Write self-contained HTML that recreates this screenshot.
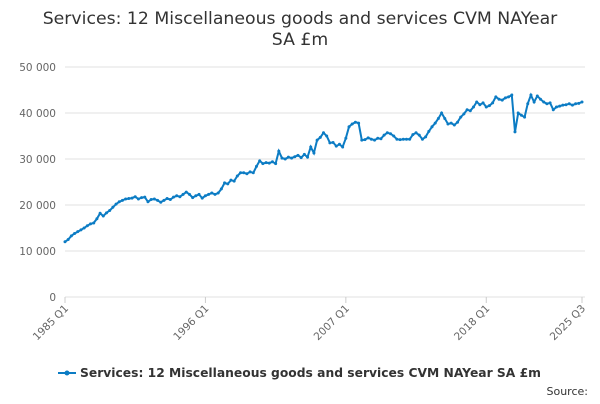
<!DOCTYPE html>
<html><head><meta charset="utf-8"><style>
body{margin:0;background:#fff;font-family:"DejaVu Sans",sans-serif;}
svg text{font-family:"DejaVu Sans","Liberation Sans",sans-serif;}
</style></head><body>
<svg width="600" height="400" id="c">
<text x="300" y="24" text-anchor="middle" font-size="17.3" fill="#333">Services: 12 Miscellaneous goods and services CVM NAYear</text>
<text x="300" y="45" text-anchor="middle" font-size="17.3" fill="#333">SA £m</text>
<g id="grid"></g><g id="ax"></g><g id="series"></g>
<g>
<line x1="58" y1="373" x2="76" y2="373" stroke="#0c7cc4" stroke-width="2"/><circle cx="67" cy="373" r="2.5" fill="#0c7cc4"/>
<text x="80" y="377" font-size="12.3" font-weight="bold" fill="#333">Services: 12 Miscellaneous goods and services CVM NAYear SA £m</text></g>
<text x="588" y="395" text-anchor="end" font-size="11" fill="#333">Source:</text>
</svg>
<script>
const yTicks=[0,10000,20000,30000,40000,50000];
const yTickLabels=["0","10 000","20 000","30 000","40 000","50 000"];
const xTickIdx=[0,44,88,132,162];
const xTickLabels=["1985 Q1","1996 Q1","2007 Q1","2018 Q1","2025 Q3"];
const values=[
12000,12500,13300,13800, 14200,14600,15000,15500, 15900,16100,17000,18200, 17600,18300,18800,19500,
20200,20700,21000,21300, 21400,21500,21800,21300, 21600,21700,20700,21200, 21300,21000,20600,21000,
21400,21200,21700,22000, 21800,22300,22800,22300, 21600,22000,22300,21500, 22000,22300,22600,22300,
22600,23500,24800,24600, 25400,25200,26300,27000, 27000,26800,27200,27000, 28400,29600,29000,29200,
29100,29400,29000,31700, 30200,30000,30400,30200, 30500,30800,30300,31000, 30400,32600,31300,34100,
34700,35700,35000,33500, 33600,32800,33200,32600, 34500,37000,37600,38000, 37800,34100,34200,34600,
34300,34100,34500,34400, 35200,35700,35500,35000, 34300,34200,34300,34300, 34300,35300,35700,35200,
34300,34800,36000,37000, 37800,38800,40000,38800, 37600,37800,37400,38000, 39100,39800,40700,40500,
41300,42400,41800,42200, 41300,41600,42200,43500, 43000,42800,43300,43500, 43900,35900,40000,39500,
39100,42000,43900,42400, 43700,43000,42400,42000, 42200,40700,41300,41500, 41700,41800,42000,41700,
42000,42100,42400];
const X0=65,X1=582,Y0=297,Y1=67;
const N=values.length-1;
const xs=i=>X0+(X1-X0)*i/N, ys=v=>Y0-(Y0-Y1)*v/50000;
const NS="http://www.w3.org/2000/svg";
const g=document.getElementById('grid'),ax=document.getElementById('ax'),s=document.getElementById('series');
yTicks.forEach((t,k)=>{
 const l=document.createElementNS(NS,'line');
 
 
 l.setAttribute('x1',X0);l.setAttribute('x2',X1+3);l.setAttribute('y1',ys(t));l.setAttribute('y2',ys(t));
 l.setAttribute('stroke','#e0e0e0');g.appendChild(l);
 const tx=document.createElementNS(NS,'text');
 
 
 tx.setAttribute('x',X0-9);tx.setAttribute('y',ys(t)+4);tx.setAttribute('text-anchor','end');
 tx.setAttribute('font-size','10.5');tx.setAttribute('fill','#666');tx.textContent=yTickLabels[k];ax.appendChild(tx);
});
xTickIdx.forEach((i,k)=>{
 const l=document.createElementNS(NS,'line');
 
 
 l.setAttribute('x1',xs(i));l.setAttribute('x2',xs(i));l.setAttribute('y1',Y0);l.setAttribute('y2',Y0+6);
 l.setAttribute('stroke','#ccc');ax.appendChild(l);
 const tx=document.createElementNS(NS,'text');
 
 
 const x=xs(i)+4,y=Y0+12;
 tx.setAttribute('x',x);tx.setAttribute('y',y);tx.setAttribute('text-anchor','end');
 tx.setAttribute('transform','rotate(-45 '+x+' '+y+')');
 tx.setAttribute('font-size','10.5');tx.setAttribute('fill','#666');tx.textContent=xTickLabels[k];ax.appendChild(tx);
});
const p=document.createElementNS(NS,'path');


p.setAttribute('d',values.map((v,i)=>(i?'L':'M')+xs(i).toFixed(1)+','+ys(v).toFixed(1)).join(''));
p.setAttribute('fill','none');p.setAttribute('stroke','#0c7cc4');p.setAttribute('stroke-width','2');s.appendChild(p);
values.forEach((v,i)=>{
 const c=document.createElementNS(NS,'circle');
 
 
 c.setAttribute('cx',xs(i));c.setAttribute('cy',ys(v));c.setAttribute('r','1.5');c.setAttribute('fill','#0c7cc4');s.appendChild(c);
});
</script>
</body></html>
